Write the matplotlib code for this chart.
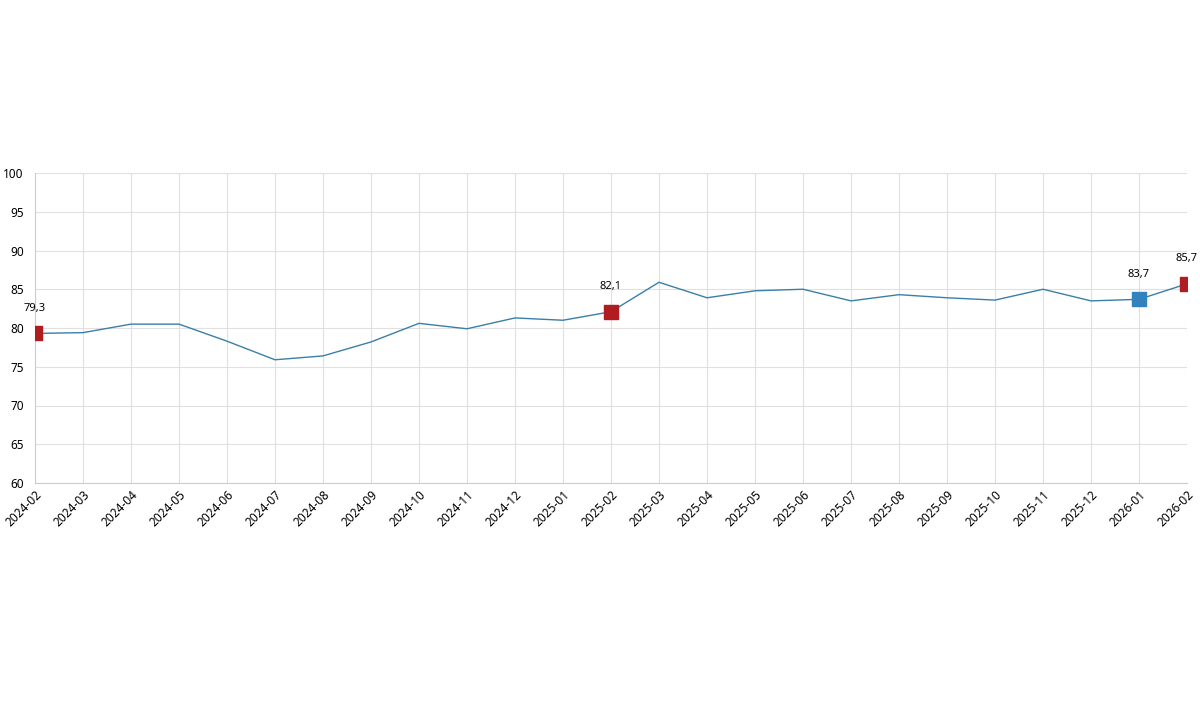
import matplotlib
matplotlib.use("Agg")
import matplotlib.pyplot as plt

plt.rcParams['font.family'] = ['Noto Sans', 'DejaVu Sans']

months = ["2024-02","2024-03","2024-04","2024-05","2024-06","2024-07","2024-08","2024-09",
          "2024-10","2024-11","2024-12","2025-01","2025-02","2025-03","2025-04","2025-05",
          "2025-06","2025-07","2025-08","2025-09","2025-10","2025-11","2025-12","2026-01","2026-02"]
values = [79.3,79.4,80.5,80.5,78.3,75.9,76.4,78.2,80.6,79.9,81.3,81.0,82.1,85.9,83.9,84.8,
          85.0,83.5,84.3,83.9,83.6,85.0,83.5,83.7,85.7]
red_idx = [0, 12, 24]
blue_idx = [23]
yticks = [60,65,70,75,80,85,90,95,100]

fig = plt.figure(figsize=(12, 7.05), dpi=100)
ax = fig.add_axes([35/1200, (705-483)/705, (1187-35)/1200, (483-173)/705])
x = list(range(len(months)))
ax.plot(x, values, color='#3a7fa8', lw=1, zorder=3)
for i in red_idx:
    ax.scatter([x[i]], [values[i]], marker='s', s=110, color='#b01c20', zorder=4)
for i in blue_idx:
    ax.scatter([x[i]], [values[i]], marker='s', s=110, color='#3182bd', zorder=4)
for i in red_idx + blue_idx:
    ax.annotate(f"{values[i]:.1f}".replace('.', ','), (x[i], values[i]), xytext=(0, 14),
                textcoords='offset points', ha='center', va='bottom', fontsize=8, fontweight='bold')
ax.set_xlim(0, len(months) - 1)
ax.set_ylim(60, 100)
ax.set_yticks(yticks)
ax.set_xticks(x)
ax.set_xticklabels(months, rotation=45, ha='right', rotation_mode='anchor', fontsize=8.5)
ax.tick_params(axis='y', labelsize=8.5, length=0, pad=8)
ax.tick_params(axis='x', length=0, pad=4)
ax.grid(True, color='#e0e0e0', lw=0.8)
for s in ['top', 'right']:
    ax.spines[s].set_visible(False)
ax.spines['left'].set_color('#cccccc')
ax.spines['bottom'].set_color('#cccccc')
fig.savefig("out.png", dpi=100)
